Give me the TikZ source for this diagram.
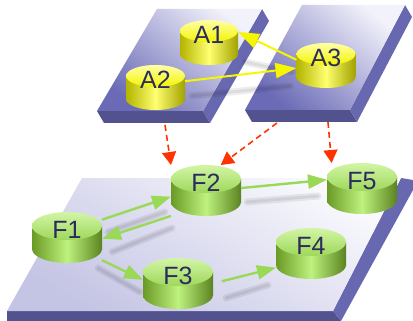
\documentclass[tikz,border=0pt]{standalone}
\usepackage{fontspec}
\setmainfont{Liberation Sans}
\usetikzlibrary{arrows.meta}
\definecolor{plDark}{HTML}{6A6AB6}
\definecolor{plLight}{HTML}{F2F2FB}
\definecolor{plFront}{HTML}{52528E}
\definecolor{plSide}{HTML}{6868B0}
\definecolor{bpDark}{HTML}{C4C4E4}
\definecolor{bpLight}{HTML}{FAFAFE}
\definecolor{yDark}{HTML}{B4B400}
\definecolor{yHi}{HTML}{FFFF70}
\definecolor{yTopA}{HTML}{FFFFA8}
\definecolor{yTopB}{HTML}{F4F400}
\definecolor{gDark}{HTML}{6A9A26}
\definecolor{gHi}{HTML}{BEF27E}
\definecolor{gTopA}{HTML}{D2F5A6}
\definecolor{gTopB}{HTML}{9ED85A}
\definecolor{txt}{HTML}{2B2B5E}
\definecolor{redA}{HTML}{FF3300}
\definecolor{grnA}{HTML}{9AD958}
\definecolor{yelA}{HTML}{F6F600}
\newcommand\mycyl[8]{%
  \path[#7side] (#2-#4,#3) rectangle (#2+#4,#3+#6);
  \path[#7side] (#2,#3+#6) ellipse [x radius=#4, y radius=#5];
  \path[#7top] (#2,#3) ellipse [x radius=#4, y radius=#5];
  \node[cylbox, minimum width=2*#4, minimum height=2*#5+#6] (#1) at (#2,#3+#6/2) {};
  \node[lab] (#1t) at (#2,#3+4) {#8};
}
\begin{document}
\begin{tikzpicture}[x=1pt,y=-1pt,
  yside/.style={left color=yDark, right color=yDark!90!black, middle color=yHi},
  ytop/.style={top color=yTopA, bottom color=yTopB},
  gside/.style={left color=gDark, right color=gDark!85!black, middle color=gHi},
  gtop/.style={top color=gTopA, bottom color=gTopB},
  cylbox/.style={draw=none, inner sep=0pt, outer sep=0pt, rectangle},
  lab/.style={text=txt, inner sep=0pt, font=\fontsize{25}{25}\selectfont},
  platetop/.style={top color=plLight, bottom color=plDark, shading angle=-40},
  ylink/.style={draw=yelA, line width=2pt, -{Triangle[length=21pt,width=15pt]}},
  glink/.style={draw=grnA, line width=2.4pt, -{Triangle[length=19pt,width=14pt]}},
  rlink/.style={draw=redA, line width=1.6pt, dash pattern=on 6pt off 4pt, -{Triangle[length=13pt,width=14pt]}},
  shad/.style={draw=black, opacity=0.07, line width=7pt, line cap=round},
  shadin/.style={draw=black, opacity=0.07, line width=3pt, line cap=round},
]
\useasboundingbox (0,0) rectangle (413,321);
% bottom plate
\fill[plFront] (7,311) -- (333,311) -- (341,321) -- (7,321) -- cycle;
\fill[plSide] (401,178) -- (413,180) -- (413,190) -- (341,321) -- (333,311) -- cycle;
\path[top color=bpLight, bottom color=bpDark, shading angle=-30] (82,178) -- (401,178) -- (333,311) -- (7,311) -- cycle;
% left upper plate
\fill[plFront] (97,111) -- (203,111) -- (210,123) -- (104,123) -- cycle;
\fill[plSide] (262,9) -- (269,21) -- (210,123) -- (203,111) -- cycle;
\path[platetop] (157,9) -- (262,9) -- (203,111) -- (97,111) -- cycle;
% right upper plate
\fill[plFront] (245,110) -- (350,110) -- (357,122) -- (252,122) -- cycle;
\fill[plSide] (405,5) -- (412,17) -- (357,122) -- (350,110) -- cycle;
\path[platetop] (302,5) -- (405,5) -- (350,110) -- (245,110) -- cycle;
% shadows
\foreach \s in {shad,shadin}{
\draw[\s] (245,62) -- (292,72);
\draw[\s] (192,96) -- (290,86);
\draw[\s] (108,232) -- (165,212);
\draw[\s] (112,252) -- (172,228);
\draw[\s] (98,268) -- (140,292);
\draw[\s] (247,202) -- (318,196);
\draw[\s] (226,298) -- (268,285);
}
% cylinders
\mycyl{A1}{209}{31}{29}{11}{23}{y}{A1}
\mycyl{A2}{155.5}{76}{29.5}{11}{23}{y}{A2}
\mycyl{A3}{326}{54}{29.5}{11}{23}{y}{A3}
\mycyl{F1}{67}{226}{35}{14}{23}{g}{F1}
\mycyl{F2}{206}{179}{35}{14}{23}{g}{F2}
\mycyl{F3}{178}{272}{35}{14}{23}{g}{F3}
\mycyl{F4}{311}{242}{35}{14}{23}{g}{F4}
\mycyl{F5}{362}{177}{35}{14}{23}{g}{F5}
% yellow links
\draw[ylink] (A3.169) -- (A1.20);
\draw[ylink] (A2.12) -- (A3.185);
% green links
\draw[glink] (F1.27) -- (F2.190);
\draw[glink] (F2.216) -- (F1.358);
\draw[glink] (F1.-33) -- (F3.174);
\draw[glink] (F2.4) -- (F5.166);
\draw[glink, shorten <=9pt] (F3.east) -- (F4.202);
% red dashed links
\coordinate (r1) at (165,125);
\coordinate (r2) at (277,123);
\coordinate (r3) at (328,122);
\draw[rlink] (r1) -- (F2.north west);
\draw[rlink] (r2) -- (F2.60);
\draw[rlink] (r3) -- (F5.140);
\end{tikzpicture}
\end{document}
